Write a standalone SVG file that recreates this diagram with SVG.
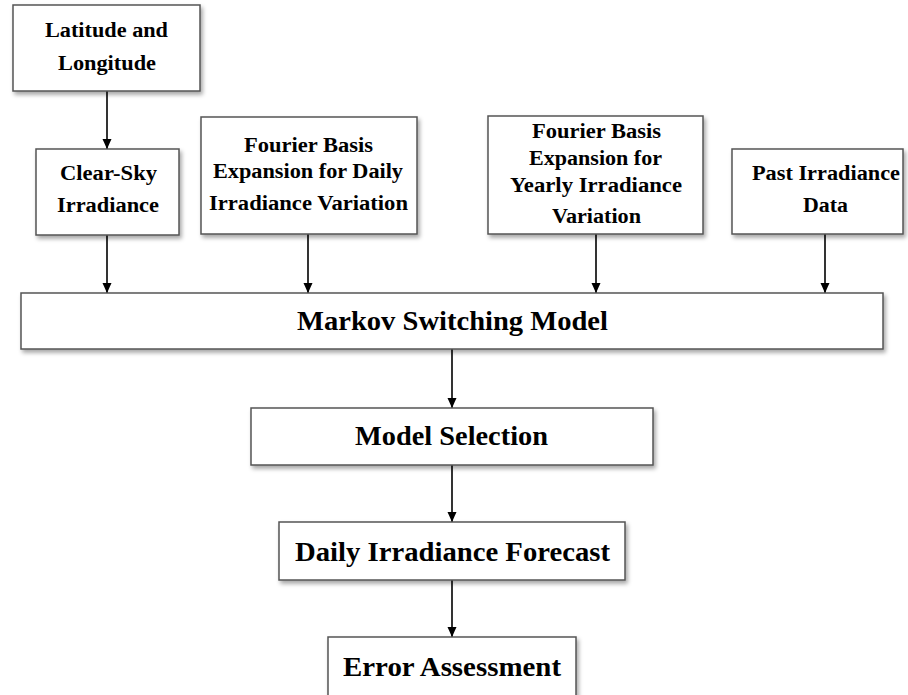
<svg xmlns="http://www.w3.org/2000/svg" width="908" height="695" viewBox="0 0 908 695">
  <defs>
    <filter id="shadow" x="-10%" y="-20%" width="130%" height="150%">
      <feDropShadow dx="2" dy="3" stdDeviation="2" flood-color="#000" flood-opacity="0.35"/>
    </filter>
    <marker id="arrow" viewBox="0 0 10 10" refX="10" refY="5" markerWidth="10" markerHeight="10" markerUnits="userSpaceOnUse" orient="auto">
      <path d="M0,0.5 L10,5 L0,9.5 Z" fill="#000"/>
    </marker>
  </defs>
  <style>
    .box { fill: #fff; stroke: #555; stroke-width: 1.5; filter: url(#shadow); }
    text { font-family: 'Liberation Serif', 'Times New Roman', Times, serif; font-weight: 700; fill: #000; text-anchor: middle; }
    .s { font-size: 20px; }
    .l { font-size: 27.5px; }
    .edge { stroke: #000; stroke-width: 1.6; fill: none; marker-end: url(#arrow); }
  </style>
  <rect width="908" height="695" fill="#fff"/>

  <g id="connectors">
    <line class="edge" x1="107" y1="91" x2="107" y2="149"/>
    <line class="edge" x1="107" y1="235" x2="107" y2="293"/>
    <line class="edge" x1="308" y1="234" x2="308" y2="293"/>
    <line class="edge" x1="596" y1="234" x2="596" y2="293"/>
    <line class="edge" x1="825" y1="234" x2="825" y2="293"/>
    <line class="edge" x1="452" y1="349" x2="452" y2="408"/>
    <line class="edge" x1="452" y1="465" x2="452" y2="522"/>
    <line class="edge" x1="452" y1="580" x2="452" y2="637"/>
  </g>

  <g id="lat-long">
    <rect class="box" x="13" y="5" width="187" height="86"/>
    <text class="s" x="106.5" y="37" textLength="123" lengthAdjust="spacingAndGlyphs">Latitude and</text>
    <text class="s" x="107" y="70" textLength="98" lengthAdjust="spacingAndGlyphs">Longitude</text>
  </g>

  <g id="clear-sky">
    <rect class="box" x="36" y="149" width="143" height="86"/>
    <text class="s" x="108.5" y="180" textLength="97" lengthAdjust="spacingAndGlyphs">Clear-Sky</text>
    <text class="s" x="108" y="212" textLength="102" lengthAdjust="spacingAndGlyphs">Irradiance</text>
  </g>

  <g id="fourier-daily">
    <rect class="box" x="201" y="117" width="216" height="117"/>
    <text class="s" x="308.5" y="152" textLength="129" lengthAdjust="spacingAndGlyphs">Fourier Basis</text>
    <text class="s" x="308" y="178" textLength="190" lengthAdjust="spacingAndGlyphs">Expansion for Daily</text>
    <text class="s" x="308.5" y="210" textLength="199" lengthAdjust="spacingAndGlyphs">Irradiance Variation</text>
  </g>

  <g id="fourier-yearly">
    <rect class="box" x="488" y="116" width="215" height="118"/>
    <text class="s" x="596.5" y="138" textLength="129" lengthAdjust="spacingAndGlyphs">Fourier Basis</text>
    <text class="s" x="595.5" y="165" textLength="133" lengthAdjust="spacingAndGlyphs">Expansion for</text>
    <text class="s" x="596" y="192" textLength="172" lengthAdjust="spacingAndGlyphs">Yearly Irradiance</text>
    <text class="s" x="596.5" y="223" textLength="89" lengthAdjust="spacingAndGlyphs">Variation</text>
  </g>

  <g id="past-data">
    <rect class="box" x="732" y="149" width="171" height="85"/>
    <text class="s" x="826" y="180" textLength="148" lengthAdjust="spacingAndGlyphs">Past Irradiance</text>
    <text class="s" x="825.5" y="212" textLength="45" lengthAdjust="spacingAndGlyphs">Data</text>
  </g>

  <g id="markov">
    <rect class="box" x="21" y="293" width="862" height="56"/>
    <text class="l" x="452.5" y="330" textLength="311" lengthAdjust="spacingAndGlyphs">Markov Switching Model</text>
  </g>

  <g id="model-selection">
    <rect class="box" x="251" y="408" width="402" height="57"/>
    <text class="l" x="451.5" y="445" textLength="193" lengthAdjust="spacingAndGlyphs">Model Selection</text>
  </g>

  <g id="daily-forecast">
    <rect class="box" x="279" y="522" width="346" height="58"/>
    <text class="l" x="452.5" y="561" textLength="315" lengthAdjust="spacingAndGlyphs">Daily Irradiance Forecast</text>
  </g>

  <g id="error-assessment">
    <rect class="box" x="328" y="637" width="248" height="62"/>
    <text class="l" x="452" y="676" textLength="218" lengthAdjust="spacingAndGlyphs">Error Assessment</text>
  </g>
</svg>
